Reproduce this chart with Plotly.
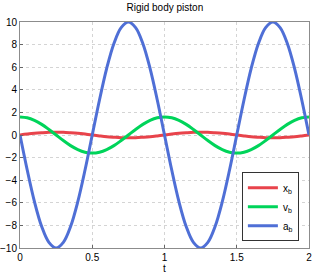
import plotly.graph_objects as go

t = [round(i * 0.05, 2) for i in range(41)]

a_b = [0, -3.1, -5.9, -8.1, -9.5, -10, -9.5, -8.1, -5.9, -3.1, 0,
       3.1, 5.9, 8.1, 9.5, 10, 9.5, 8.1, 5.9, 3.1, 0,
       -3.1, -5.9, -8.1, -9.5, -10, -9.5, -8.1, -5.9, -3.1, 0,
       3.1, 5.9, 8.1, 9.5, 10, 9.5, 8.1, 5.9, 3.1, 0]

v_b = [1.6, 1.52, 1.29, 0.94, 0.49, 0, -0.49, -0.94, -1.29, -1.52, -1.6,
       -1.52, -1.29, -0.94, -0.49, 0, 0.49, 0.94, 1.29, 1.52, 1.6,
       1.52, 1.29, 0.94, 0.49, 0, -0.49, -0.94, -1.29, -1.52, -1.6,
       -1.52, -1.29, -0.94, -0.49, 0, 0.49, 0.94, 1.29, 1.52, 1.6]

x_b = [0, 0.08, 0.15, 0.2, 0.24, 0.25, 0.24, 0.2, 0.15, 0.08, 0,
       -0.08, -0.15, -0.2, -0.24, -0.25, -0.24, -0.2, -0.15, -0.08, 0,
       0.08, 0.15, 0.2, 0.24, 0.25, 0.24, 0.2, 0.15, 0.08, 0,
       -0.08, -0.15, -0.2, -0.24, -0.25, -0.24, -0.2, -0.15, -0.08, 0]

x_ticks = [0, 0.5, 1, 1.5, 2]
y_ticks = [-10, -8, -6, -4, -2, 0, 2, 4, 6, 8, 10]

series = [
    ("x<sub>b</sub>", x_b, "#e8434b"),
    ("v<sub>b</sub>", v_b, "#00d45a"),
    ("a<sub>b</sub>", a_b, "#4f6fd6"),
]

fig = go.Figure()
for name, vals, col in series:
    fig.add_trace(go.Scatter(x=t, y=vals, name=name, mode="lines",
                             line=dict(color=col, width=3, shape="spline")))

axis_common = dict(showline=True, mirror=True, linecolor="#8c8c8c", linewidth=1,
                   showgrid=True, gridcolor="#d4d4d4", griddash="dot", gridwidth=1,
                   ticks="inside", ticklen=3, tickcolor="#666666", automargin=False,
                   zeroline=False, tickfont=dict(size=10, color="#000000"))

fig.update_layout(
    width=314, height=275,
    margin=dict(l=20, r=5, t=22, b=27, autoexpand=False),
    paper_bgcolor="white", plot_bgcolor="white",
    font=dict(family="Liberation Sans, Arial, sans-serif", size=10, color="#000000"),
    title=dict(text="Rigid body piston", x=0.525, xanchor="center", y=0.985, yanchor="top",
               font=dict(size=10)),
    xaxis=dict(range=[0, 2], tickvals=x_ticks, ticktext=[str(v) for v in x_ticks],
               title=dict(text="t", standoff=0, font=dict(size=10)), ticklabelstandoff=0,
               **axis_common),
    yaxis=dict(range=[-10, 10], tickvals=y_ticks, ticklabelstandoff=0, **axis_common),
    legend=dict(x=0.965, xanchor="right", y=0.03, yanchor="bottom",
                bgcolor="white", bordercolor="#333333", borderwidth=1,
                font=dict(size=10), tracegroupgap=0, itemwidth=30),
    showlegend=True,
)

fig.write_html("out.html", config={"displayModeBar": False},
               post_script="document.body.style.margin='0';document.body.style.overflow='hidden';")
